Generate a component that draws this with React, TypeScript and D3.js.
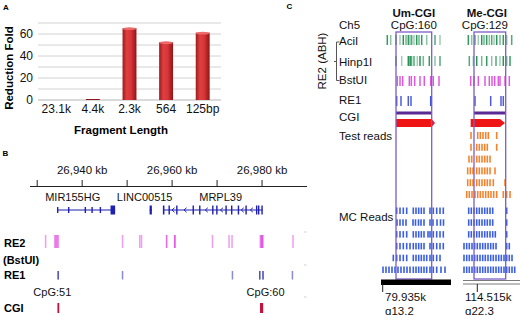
import React from 'react';
import * as d3 from 'd3';

const W = 520;
const H = 315;
const FONT = '"Liberation Sans", Arial, sans-serif';

// ---------- Panel A data ----------
const fragCategories = ['23.1k', '4.4k', '2.3k', '564', '125bp'];
const reductionFold = [0, 0.4, 65.3, 52.5, 61.2];
const foldTickLabels = [0, 20, 40, 60];
const foldGrid = [0, 10, 20, 30, 40, 50, 60, 70];

// ---------- Panel B data (kb) ----------
const locusTicksKb = [26930, 26940, 26950, 26960, 26970, 26980];
const locusLabelKb = [26940, 26960, 26980];
const geneNames = ['MIR155HG', 'LINC00515', 'MRPL39'];
const geneLabelKb = [26937.9, 26953.9, 26970.8];
const geneSpans = [
  [26934.44, 26947.33],
  [26955.0, 26955.5],
  [26958.0, 26980.09],
];
const mir155hgExons = [
  [26934.40, 26934.70], [26936.85, 26937.1], [26940.55, 26940.8], [26942.05, 26942.3],
  [26943.9, 26944.15], [26946.31, 26947.33],
];
const linc00515Exons = [[26955.0, 26955.5]];
const mrpl39Exons = [
  [26957.95, 26958.3], [26959.2, 26959.5], [26960.9, 26961.2], [26964.55, 26964.85],
  [26966.0, 26966.3], [26968.9, 26969.2], [26969.8, 26970.1], [26971.85, 26972.15],
  [26973.1, 26973.4], [26974.6, 26974.9], [26976.3, 26976.6], [26978.65, 26978.95],
  [26979.1, 26979.4], [26979.85, 26980.15],
];
const re2SitesKb = [
  26931.87, 26933.9, 26934.1, 26934.3, 26934.5, 26934.7, 26948.98, 26952.8, 26953.2,
  26958.76, 26958.8, 26960.55, 26960.6, 26960.65, 26968.98, 26972.67, 26973.33,
  26979.6, 26979.8, 26979.9, 26980.0, 26980.1, 26980.2, 26986.89,
];
const re1SitesKb = [26934.67, 26934.67, 26948.98, 26973.42, 26979.49, 26979.49, 26980.22, 26980.22, 26986.76];
const cgiSpansKb = [
  [26934.5, 26934.9],
  [26979.55, 26980.25],
];
const cgiLabels = ['CpG:51', 'CpG:60'];

// ---------- Panel C data (bp offsets within each window) ----------
const trackNames = ['Ch5', 'AciI', 'Hinp1I', 'BstUI', 'RE1', 'CGI', 'Test reads'];

const umAciI = [63, 97, 150, 190, 223, 250, 273, 290, 307, 330, 357, 380, 407, 457, 540, 590];
const umHinp1I = [150, 207, 273, 285, 297, 307, 330, 363, 390, 423, 483, 540, 590];
const umBstUI = [163, 190, 217, 283, 303, 337, 390, 433, 497, 523, 580];
const umRE1 = [157, 200, 273, 300, 497, 503];
const umCGI = [150, 507, 540];
const umTestReads: number[][] = [];
const umMCReads = [
  [157, 190, 223, 257, 323, 350, 377, 403, 430, 490, 523, 557, 590, 623],
  [160, 190, 220, 250, 320, 345, 375, 400, 430, 490, 520, 560, 595, 625],
  [157, 190, 223, 257, 323, 350, 377, 403, 430, 470, 490, 523, 557, 590, 623],
  [157, 190, 223, 257, 290, 323, 350, 377, 403, 430, 490, 523, 557, 590, 623],
  [123, 157, 190, 223, 257, 323, 350, 377, 403, 430, 457, 490, 523, 557, 590],
  [20, 50, 80, 110, 140, 170, 200, 230, 260, 290, 323, 350, 377, 403, 430, 457, 490, 523, 557, 600, 640],
];

const meAciI = [53, 87, 120, 153, 187, 210, 237, 263, 287, 310, 337, 370, 403, 437, 487];
const meHinp1I = [63, 103, 137, 187, 237, 287, 330, 370, 403, 437, 470];
const meBstUI = [77, 110, 153, 220, 263, 290, 317, 353, 370, 420, 463];
const meRE1 = [120, 277, 380, 403];
const meCGI = [77, 370, 420];
const meTestReads = [
  [80, 147, 173, 200, 227, 253, 337],
  [80, 137, 163, 190, 217, 243, 337],
  [60, 87, 137, 163, 190, 217, 243, 270],
  [47, 73, 100, 137, 163, 190, 217, 243, 270, 320],
  [47, 73, 100, 137, 163, 190, 217, 243, 270, 303, 420],
  [37, 63, 90, 120, 147, 173, 200, 227, 253, 280, 307, 337, 403, 437, 470],
];
const meMCReads = [
  [57, 83, 110, 137, 163, 190, 217, 243, 270, 297, 437],
  [57, 83, 110, 137, 163, 190, 217, 243, 270, 297, 437],
  [57, 83, 110, 137, 163, 190, 217, 243, 270, 297, 323, 437],
  [10, 37, 63, 90, 117, 143, 170, 197, 223, 250, 277, 303, 330, 437, 463],
  [10, 37, 63, 90, 117, 143, 170, 197, 223, 250, 277, 303, 330, 357, 383, 410, 437, 463, 490],
  [10, 37, 63, 90, 117, 143, 170, 197, 223, 250, 277, 303, 330, 357, 383, 410, 437, 463, 490, 517],
];

const columnHeaders = ['Um-CGI', 'Me-CGI'];
const columnCpG = ['CpG:160', 'CpG:129'];
const columnCoord = ['79.935k', '114.515k'];
const columnBand = ['q13.2', 'q22.3'];
const coordTickBp = [17, 143];

// ---------- Panel A ----------
function PanelA() {
  const x = d3.scaleBand<string>().domain(fragCategories).range([38, 221]).paddingInner(0.62).paddingOuter(0.31);
  const y = d3.scaleLinear().domain([0, 70]).range([100, 23]);
  const bw = x.bandwidth();
  return (
    <g>
      <defs>
        <linearGradient id="barGrad" x1="0" x2="1" y1="0" y2="0">
          <stop offset="0" stopColor="#9c1a1c" />
          <stop offset="0.3" stopColor="#de3f41" />
          <stop offset="0.6" stopColor="#d83638" />
          <stop offset="1" stopColor="#8e1517" />
        </linearGradient>
      </defs>
      <text x={3} y={9.5} fontSize={8} fontWeight="bold" fontFamily={FONT}>A</text>
      {foldGrid.map((v) => (
        <line key={v} x1={38} x2={221} y1={y(v)} y2={y(v)} stroke={v === 0 ? '#b5b5b5' : '#d2d2d2'} strokeWidth={1} />
      ))}
      {foldTickLabels.map((v) => (
        <text key={v} x={33} y={y(v) + 4.2} fontSize={12} textAnchor="end" fontFamily={FONT} fill="#111">{v}</text>
      ))}
      {fragCategories.map((c, i) => {
        const v = reductionFold[i];
        if (v <= 0) return null;
        const x0 = x(c) as number;
        const top = y(v);
        const h = Math.max(y(0) - top, 1);
        return (
          <g key={c}>
            <rect x={x0} y={y(0) - h} width={bw} height={h} fill={h > 2 ? 'url(#barGrad)' : '#8a1a1a'} />
            {h > 2 && <ellipse cx={x0 + bw / 2} cy={top + 0.5} rx={bw / 2} ry={1.4} fill="#ec6a6a" />}
          </g>
        );
      })}
      {fragCategories.map((c) => (
        <text key={c} x={(x(c) as number) + bw / 2} y={112.5} fontSize={12} textAnchor="middle" fontFamily={FONT} fill="#111">{c}</text>
      ))}
      <text x={121} y={134} fontSize={11.5} fontWeight="bold" textAnchor="middle" fontFamily={FONT}>Fragment Length</text>
      <text transform={`translate(13,68) rotate(-90)`} fontSize={11.5} fontWeight="bold" textAnchor="middle" fontFamily={FONT}>Reduction Fold</text>
    </g>
  );
}

// ---------- Panel B ----------
function PanelB() {
  const x = d3.scaleLinear().domain([26928.4, 26990]).range([30, 307]);
  const geneColor = '#1f1fb0';
  const fmt = d3.format(',');
  const exonSets = [mir155hgExons, linc00515Exons, mrpl39Exons];
  const exonH = [6, 9, 9];
  const chevrons: number[] = [];
  for (let i = 0; i < mrpl39Exons.length - 1; i++) {
    const a = x(mrpl39Exons[i][1]);
    const b = x(mrpl39Exons[i + 1][0]);
    if (b - a > 6) chevrons.push((a + b) / 2);
  }
  const cgiDx = [-6, 4];
  return (
    <g fontFamily={FONT}>
      <text x={2.5} y={156} fontSize={8} fontWeight="bold">B</text>
      <line x1={30} x2={307} y1={186.5} y2={186.5} stroke="#222" strokeWidth={1} />
      {locusTicksKb.map((k) => (
        <line key={k} x1={x(k)} x2={x(k)} y1={180} y2={186.5} stroke="#222" strokeWidth={1} />
      ))}
      {locusLabelKb.map((k) => (
        <text key={k} x={x(k)} y={174} fontSize={11.5} textAnchor="middle" fill="#111">{fmt(k)} kb</text>
      ))}
      {geneNames.map((g, i) => (
        <text key={g} x={x(geneLabelKb[i])} y={201} fontSize={11} textAnchor="middle" fill="#111">{g}</text>
      ))}
      {geneSpans.map((s, i) => (
        <line key={i} x1={x(s[0])} x2={x(s[1])} y1={210} y2={210} stroke={geneColor} strokeWidth={1} />
      ))}
      {exonSets.map((ex, gi) =>
        ex.map((e, i) => {
          const big = e[1] - e[0] > 0.6;
          const h = big ? 9 : exonH[gi];
          return (
            <rect key={`${gi}-${i}`} x={x(e[0])} y={210 - h / 2} width={Math.max(x(e[1]) - x(e[0]), 1.4)} height={h} fill={geneColor} />
          );
        })
      )}
      {chevrons.map((c, i) => (
        <path key={i} d={`M${c + 1.5},207.8 L${c - 1},210 L${c + 1.5},212.2`} fill="none" stroke={geneColor} strokeWidth={1} />
      ))}
      {re2SitesKb.map((k, i) => (
        <rect key={i} x={x(k) - 0.75} y={235} width={1.5} height={13} fill="#e03ce0" opacity={0.5} />
      ))}
      {re1SitesKb.map((k, i) => (
        <rect key={i} x={x(k) - 0.75} y={271} width={1.5} height={8.5} fill="#2a2aa8" opacity={0.55} />
      ))}
      {cgiSpansKb.map((s, i) => (
        <rect key={i} x={x(s[0])} y={303} width={Math.max(x(s[1]) - x(s[0]), 1.8)} height={10} fill="#c4123e" />
      ))}
      {cgiLabels.map((l, i) => (
        <text key={l} x={x((cgiSpansKb[i][0] + cgiSpansKb[i][1]) / 2) + cgiDx[i]} y={296} fontSize={11} textAnchor="middle" fill="#111">{l}</text>
      ))}
      <text x={4} y={247} fontSize={11} fontWeight="bold">RE2</text>
      <text x={3} y={264} fontSize={11} fontWeight="bold">(BstUI)</text>
      <text x={4} y={279} fontSize={11} fontWeight="bold">RE1</text>
      <text x={4} y={312} fontSize={11} fontWeight="bold">CGI</text>
      {[232, 265, 297].map((yy) => (
        <line key={yy} x1={304} x2={306.5} y1={yy} y2={yy} stroke="#cfcfcf" strokeWidth={1} />
      ))}
    </g>
  );
}

// ---------- Panel C ----------
type ColumnProps = {
  idx: number;
  scale: d3.ScaleLinear<number, number>;
  aci: number[];
  hinp: number[];
  bst: number[];
  re1: number[];
  cgi: number[];
  test: number[][];
  mc: number[][];
  me: boolean;
};

const greenShades = [0.95, 0.55, 0.8, 0.45, 1, 0.65];

function Column({ idx, scale, aci, hinp, bst, re1, cgi, test, mc, me }: ColumnProps) {
  const [d0, d1] = scale.domain();
  const bx0 = scale(cgi[0] + (me ? 33 : 0));
  const bx1 = scale(cgi[1] + (me ? 57 : 0));
  const testY = d3.scaleLinear().domain([0, 1]).range([132, 143.8]);
  const mcY = d3.scaleLinear().domain([0, 1]).range([207.5, 219.3]);
  const cx = (bx0 + bx1) / 2 - (me ? 3 : 0);
  return (
    <g>
      <text x={cx} y={17} fontSize={11.5} fontWeight="bold" textAnchor="middle" fill="#111">{columnHeaders[idx]}</text>
      <text x={cx - (me ? 2 : 0)} y={29} fontSize={11.5} textAnchor="middle" fill="#111">{columnCpG[idx]}</text>
      {aci.map((p, i) => (
        <rect key={`a${i}`} x={scale(p) - 0.75} y={35} width={1.5} height={10} fill="#2a9358" opacity={greenShades[i % greenShades.length]} />
      ))}
      {hinp.map((p, i) => (
        <rect key={`h${i}`} x={scale(p) - 0.75} y={56} width={1.5} height={10} fill="#2a9358" opacity={greenShades[(i + 2) % greenShades.length]} />
      ))}
      {bst.map((p, i) => (
        <rect key={`b${i}`} x={scale(p) - 0.75} y={76} width={1.5} height={10} fill="#d93cd9" opacity={0.85} />
      ))}
      {re1.map((p, i) => (
        <rect key={`r${i}`} x={scale(p) - 0.75} y={96} width={1.5} height={10} fill="#3040d0" opacity={0.85} />
      ))}
      <rect x={bx0} y={111.5} width={bx1 - bx0} height={3} fill="#5a2b94" />
      <path
        d={`M${scale(cgi[0])},119 L${scale(cgi[1])},119 L${scale(cgi[2])},123 L${scale(cgi[1])},127 L${scale(cgi[0])},127 Z`}
        fill="#f01515"
      />
      {test.map((row, r) =>
        row.map((p, i) => (
          <rect key={`t${r}-${i}`} x={scale(p) - 0.8} y={testY(r)} width={1.6} height={7} fill="#f5832e" />
        ))
      )}
      {mc.map((row, r) =>
        row.map((p, i) => (
          <rect key={`m${r}-${i}`} x={scale(p) - 0.8} y={mcY(r)} width={1.6} height={6.5} fill="#3a5fe0" />
        ))
      )}
      <rect x={bx0} y={32} width={bx1 - bx0} height={247} fill="none" stroke="#7c5cc6" strokeWidth={1.3} />
      {me ? (
        <g>
          <line x1={scale(d0)} x2={scale(d1)} y1={280.5} y2={280.5} stroke="#7a7a7a" strokeWidth={1} />
          <line x1={scale(d0)} x2={scale(d1)} y1={284} y2={284} stroke="#7a7a7a" strokeWidth={1} />
        </g>
      ) : (
        <rect x={scale(d0)} y={279.5} width={scale(d1) - scale(d0)} height={5.5} fill="#000" />
      )}
      <line x1={scale(coordTickBp[idx])} x2={scale(coordTickBp[idx])} y1={284} y2={292} stroke="#222" strokeWidth={1} />
      <text x={scale(d0) + (me ? 2 : 4)} y={300.5} fontSize={11.5} fill="#111">{columnCoord[idx]}</text>
      <text x={scale(d0) + (me ? 2 : 4)} y={314.5} fontSize={11.5} fill="#111">{columnBand[idx]}</text>
    </g>
  );
}

function PanelC() {
  const umScale = d3.scaleLinear().domain([0, 700]).range([381, 451]);
  const meScale = d3.scaleLinear().domain([0, 570]).range([463, 520]);
  const labelY = [29, 45, 65.5, 84, 103.5, 121, 140];
  return (
    <g fontFamily={FONT}>
      <text x={286.5} y={8.5} fontSize={8} fontWeight="bold">C</text>
      {trackNames.map((t, i) => (
        <text key={t} x={339} y={labelY[i]} fontSize={11.5} fill="#111">{t}</text>
      ))}
      <text x={339} y={221} fontSize={11.5} fill="#111">MC Reads</text>
      <text transform="translate(326,61) rotate(-90)" fontSize={11.5} textAnchor="middle" fill="#111">RE2 (ABH)</text>
      <path d="M339.5,42 L336.5,42 L336.5,80.5 L339.5,80.5 M336.5,61.5 L334,61.5" fill="none" stroke="#555" strokeWidth={1} />
      <Column idx={0} scale={umScale} aci={umAciI} hinp={umHinp1I} bst={umBstUI} re1={umRE1} cgi={umCGI} test={umTestReads} mc={umMCReads} me={false} />
      <Column idx={1} scale={meScale} aci={meAciI} hinp={meHinp1I} bst={meBstUI} re1={meRE1} cgi={meCGI} test={meTestReads} mc={meMCReads} me={true} />
    </g>
  );
}

export default function App() {
  return (
    <svg
      width={W}
      height={H}
      viewBox={`0 0 ${W} ${H}`}
      style={{ position: 'absolute', left: 0, top: 0, background: '#fff' }}
    >
      <rect x={0} y={0} width={W} height={H} fill="#fff" />
      <PanelA />
      <PanelB />
      <PanelC />
    </svg>
  );
}
